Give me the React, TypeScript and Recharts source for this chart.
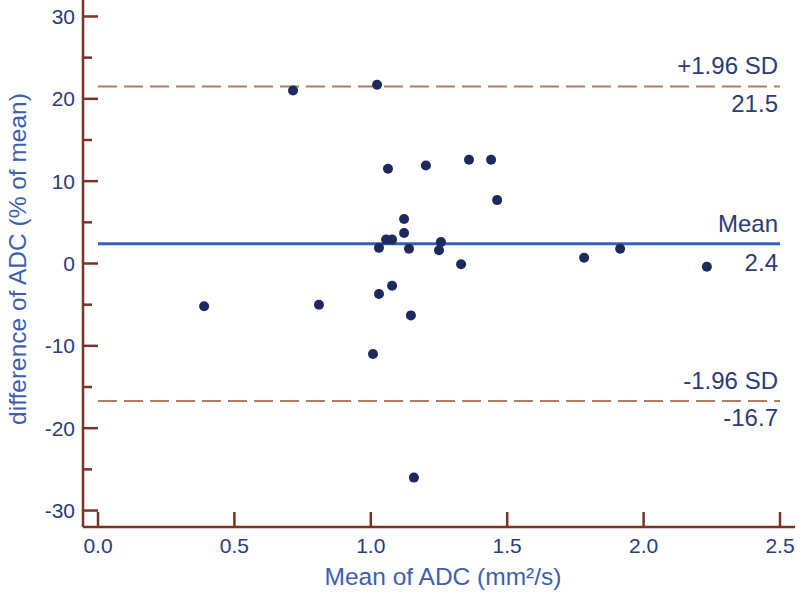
import React from 'react';
import { ScatterChart, Scatter, XAxis, YAxis, ReferenceLine, Label } from 'recharts';

// Data
const MEAN_ADC = [0.715, 1.023, 1.063, 1.202, 1.36, 1.441, 1.463, 1.122, 1.122, 1.056, 1.078, 1.03, 1.14, 1.257, 1.25, 1.331, 1.782, 1.914, 2.232, 0.389, 0.81, 1.03, 1.078, 1.147, 1.008, 1.158];
const DIFF_PCT = [21.0, 21.7, 11.5, 11.9, 12.6, 12.6, 7.7, 5.4, 3.7, 2.9, 2.9, 1.9, 1.8, 2.6, 1.6, -0.1, 0.7, 1.8, -0.4, -5.2, -5.0, -3.7, -2.7, -6.3, -11.0, -26.0];

const X_TICKS = [0, 0.5, 1.0, 1.5, 2.0, 2.5];
const Y_TICKS = [-30, -25, -20, -15, -10, -5, 0, 5, 10, 15, 20, 25, 30];

const MEAN_DIFF = 2.4;
const UPPER_LOA = 21.5;
const LOWER_LOA = -16.7;
const LINE_START = 0;
const LINE_END = 2.5;

const points = MEAN_ADC.map((x, i) => ({ x, y: DIFF_PCT[i] }));

// Layout / styles
const W = 800;
const H = 593;
const PLOT_LEFT = 83;
const PLOT_BOTTOM = 527;
const AXIS_COLOR = '#7a3425';
const TICK_TEXT = '#2d3b78';
const TITLE_COLOR = '#3d5fae';
const DASH_COLOR = '#b47a5e';
const MEAN_COLOR = '#3560b8';
const DOT_COLOR = '#1d2a5e';
const FONT = '"Liberation Sans", Arial, sans-serif';
const TICK_FS = 21;
const ANN_FS = 24;
const TITLE_FS = 24.5;

const YTick = (props: any) => {
  const { y, payload } = props;
  const v = payload.value;
  const major = v % 10 === 0;
  return (
    <g>
      <line x1={PLOT_LEFT} x2={PLOT_LEFT + (major ? 15 : 9)} y1={y} y2={y} stroke={AXIS_COLOR} strokeWidth={2.5} />
      {major && (
        <text x={PLOT_LEFT - 8} y={y} dy="0.36em" textAnchor="end" fill={TICK_TEXT} fontSize={TICK_FS} fontFamily={FONT}>
          {String(v)}
        </text>
      )}
    </g>
  );
};

const XTick = (props: any) => {
  const { x, payload } = props;
  return (
    <g>
      <line x1={x} x2={x} y1={PLOT_BOTTOM} y2={PLOT_BOTTOM - 15} stroke={AXIS_COLOR} strokeWidth={2.5} />
      <text x={x} y={PLOT_BOTTOM + 26} textAnchor="middle" fill={TICK_TEXT} fontSize={TICK_FS} fontFamily={FONT}>
        {payload.value.toFixed(1)}
      </text>
    </g>
  );
};

const lineLabel = (top: string, bottom: string, upOff: number, downOff: number) => (props: any) => {
  const vb = props.viewBox || {};
  const xr = (vb.x ?? 0) + (vb.width ?? 0) - 2;
  const y = vb.y ?? 0;
  return (
    <g>
      <text x={xr} y={y - upOff} textAnchor="end" fill={TICK_TEXT} fontSize={ANN_FS} fontFamily={FONT}>{top}</text>
      <text x={xr} y={y + downOff} textAnchor="end" fill={TICK_TEXT} fontSize={ANN_FS} fontFamily={FONT}>{bottom}</text>
    </g>
  );
};

const YTitle = () => (
  <text
    x={26}
    y={259}
    transform="rotate(-90 26 259)"
    textAnchor="middle"
    fill={TITLE_COLOR}
    fontSize={TITLE_FS}
    fontFamily={FONT}
  >
    difference of ADC (% of mean)
  </text>
);

const XTitle = () => (
  <text x={443} y={585} textAnchor="middle" fill={TITLE_COLOR} fontSize={TITLE_FS} fontFamily={FONT}>
    Mean of ADC (mm²/s)
  </text>
);

export default function App() {
  return (
    <div style={{ position: 'absolute', left: 0, top: 0, background: '#fff' }}>
      <ScatterChart width={W} height={H} margin={{ top: 0, right: 5, bottom: 0, left: 0 }}>
        <XAxis
          type="number"
          dataKey="x"
          domain={[-0.055, 2.555]}
          ticks={X_TICKS}
          allowDataOverflow
          height={66}
          axisLine={{ stroke: AXIS_COLOR, strokeWidth: 2.5 }}
          tickLine={false}
          tick={<XTick />}
          interval={0}
        >
          <Label content={<XTitle />} />
        </XAxis>
        <YAxis
          type="number"
          dataKey="y"
          domain={[-32, 32]}
          ticks={Y_TICKS}
          allowDataOverflow
          width={83}
          axisLine={{ stroke: AXIS_COLOR, strokeWidth: 2.5 }}
          tickLine={false}
          tick={<YTick />}
          interval={0}
        >
          <Label content={<YTitle />} />
        </YAxis>
        <ReferenceLine
          segment={[{ x: LINE_START, y: UPPER_LOA }, { x: LINE_END, y: UPPER_LOA }]}
          stroke={DASH_COLOR}
          strokeWidth={2}
          strokeDasharray="19 7"
          label={lineLabel('+1.96 SD', String(UPPER_LOA), 12, 26)}
        />
        <ReferenceLine
          segment={[{ x: LINE_START, y: MEAN_DIFF }, { x: LINE_END, y: MEAN_DIFF }]}
          stroke={MEAN_COLOR}
          strokeWidth={3}
          label={lineLabel('Mean', String(MEAN_DIFF), 12, 27)}
        />
        <ReferenceLine
          segment={[{ x: LINE_START, y: LOWER_LOA }, { x: LINE_END, y: LOWER_LOA }]}
          stroke={DASH_COLOR}
          strokeWidth={2}
          strokeDasharray="19 7"
          label={lineLabel('-1.96 SD', String(LOWER_LOA), 12, 25)}
        />
        <Scatter data={points} fill={DOT_COLOR} isAnimationActive={false} shape={(p: any) => <circle cx={p.cx} cy={p.cy} r={5} fill={DOT_COLOR} />} />
      </ScatterChart>
    </div>
  );
}
